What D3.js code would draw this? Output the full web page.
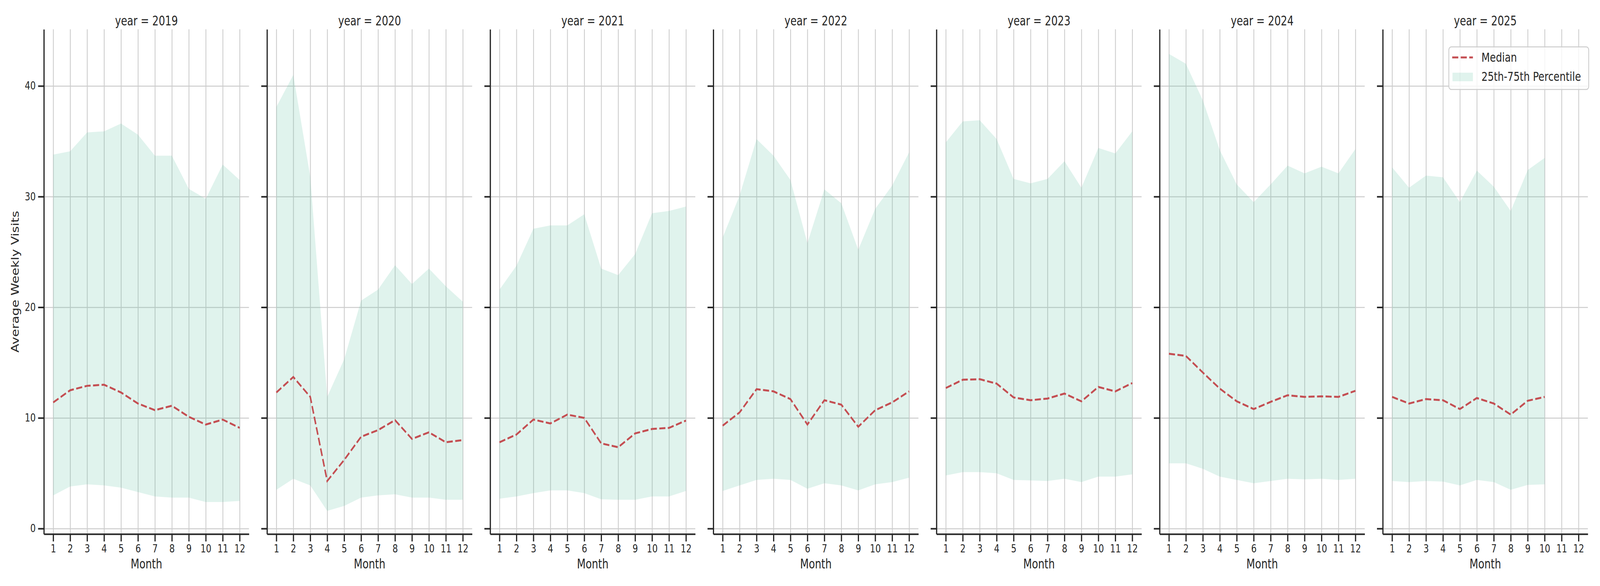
<!DOCTYPE html>
<html>
<head>
  <meta charset="utf-8">
  <title>Average Weekly Visits by Month and Year</title>
  <script src="https://d3js.org/d3.v7.min.js"></script>
  <style>
    html,
    body {
      margin: 0;
      padding: 0;
      overflow: hidden;
      background: #fff;
    }

    text {
      font-family: "DejaVu Sans", sans-serif;
      fill: #262626;
    }

    .grid line {
      stroke: #cccccc;
      stroke-width: 2.7;
    }

    .axis path,
    .axis line {
      stroke: #262626;
      stroke-width: 4;
    }
  </style>
</head>
<body>
  <div id="chart"></div>

  <script>
    // Data
    var years = [2019, 2020, 2021, 2022, 2023, 2024, 2025];
    var months = [1, 2, 3, 4, 5, 6, 7, 8, 9, 10, 11, 12];
    var yTicks = [0, 10, 20, 30, 40];

    // one row per year, one value per month (2025 stops at October)
    var median = [
      [11.4, 12.5, 12.9, 13.0, 12.3, 11.3, 10.7, 11.1, 10.1, 9.4, 9.85, 9.1],
      [12.3, 13.7, 11.9, 4.3, 6.2, 8.3, 8.9, 9.8, 8.1, 8.7, 7.8, 8.0],
      [7.8, 8.5, 9.85, 9.5, 10.3, 10.0, 7.7, 7.35, 8.6, 9.0, 9.1, 9.76],
      [9.3, 10.5, 12.6, 12.4, 11.7, 9.4, 11.6, 11.2, 9.2, 10.7, 11.4, 12.4],
      [12.7, 13.45, 13.5, 13.1, 11.85, 11.6, 11.75, 12.2, 11.5, 12.8, 12.4, 13.15],
      [15.8, 15.6, 14.1, 12.65, 11.5, 10.8, 11.45, 12.05, 11.9, 11.95, 11.9, 12.45],
      [11.9, 11.3, 11.7, 11.6, 10.8, 11.8, 11.3, 10.3, 11.55, 11.9]
    ];
    var p25 = [
      [3.0, 3.8, 4.0, 3.9, 3.7, 3.3, 2.9, 2.8, 2.8, 2.4, 2.4, 2.5],
      [3.5, 4.5, 3.9, 1.6, 2.05, 2.8, 3.0, 3.1, 2.8, 2.8, 2.6, 2.6],
      [2.7, 2.9, 3.2, 3.45, 3.45, 3.2, 2.65, 2.6, 2.6, 2.9, 2.9, 3.4],
      [3.4, 3.9, 4.4, 4.5, 4.4, 3.6, 4.1, 3.9, 3.45, 4.0, 4.2, 4.6],
      [4.8, 5.1, 5.1, 5.0, 4.4, 4.35, 4.3, 4.5, 4.2, 4.7, 4.7, 4.9],
      [5.9, 5.9, 5.4, 4.7, 4.4, 4.1, 4.3, 4.5, 4.45, 4.5, 4.4, 4.5],
      [4.3, 4.2, 4.3, 4.25, 3.9, 4.4, 4.2, 3.5, 3.95, 4.0]
    ];
    var p75 = [
      [33.8, 34.1, 35.8, 35.9, 36.6, 35.6, 33.7, 33.7, 30.7, 29.8, 32.9, 31.5],
      [38.1, 41.0, 31.8, 11.9, 15.3, 20.6, 21.6, 23.8, 22.1, 23.5, 21.9, 20.5],
      [21.6, 23.75, 27.1, 27.4, 27.4, 28.4, 23.5, 22.9, 24.8, 28.5, 28.7, 29.1],
      [26.3, 30.1, 35.2, 33.7, 31.5, 25.8, 30.65, 29.4, 25.2, 28.9, 31.0, 34.0],
      [34.9, 36.8, 36.9, 35.2, 31.6, 31.2, 31.6, 33.2, 30.8, 34.4, 33.9, 35.9],
      [42.9, 42.0, 38.7, 34.2, 31.1, 29.5, 31.1, 32.8, 32.1, 32.7, 32.1, 34.3],
      [32.65, 30.8, 31.9, 31.75, 29.5, 32.35, 30.9, 28.7, 32.4, 33.5]
    ];

    // Layout (drawn in a 5250x1500 coordinate box, fitted to the window)
    var width = 5250;
    var height = 1500;
    var firstLeft = 144;
    var panelStep = 732.2;
    var panelWidth = 673;
    var plotTop = 75;
    var plotBottom = 1367;

    var lineColor = "#c44e52";
    var bandColor = "#66c2a5";

    var svg = d3.select("#chart")
      .append("svg")
      .attr("viewBox", "0 0 " + width + " " + height)
      .attr("preserveAspectRatio", "none")
      .style("display", "block")
      .style("width", "100vw")
      .style("height", "100vh");

    svg.append("rect")
      .attr("width", width)
      .attr("height", height)
      .attr("fill", "#fff");

    var y = d3.scaleLinear()
      .domain([-0.494, 45.12])
      .range([plotBottom, plotTop]);

    years.forEach(function(year, i) {
      var left = firstLeft + i * panelStep;
      var x = d3.scaleLinear()
        .domain([0.45, 12.55])
        .range([left, left + panelWidth]);

      var g = svg.append("g");

      // grid lines
      g.append("g")
        .attr("class", "grid")
        .attr("transform", "translate(0," + plotBottom + ")")
        .call(d3.axisBottom(x).tickValues(months).tickSize(-(plotBottom - plotTop)).tickFormat(""))
        .call(function(s) { s.select(".domain").remove(); });

      g.append("g")
        .attr("class", "grid")
        .attr("transform", "translate(" + left + ",0)")
        .call(d3.axisLeft(y).tickValues(yTicks).tickSize(-panelWidth).tickFormat(""))
        .call(function(s) { s.select(".domain").remove(); });

      var rows = median[i].map(function(m, k) {
        return { month: months[k], median: m, lo: p25[i][k], hi: p75[i][k] };
      });

      // 25th-75th band
      var area = d3.area()
        .x(function(d) { return x(d.month); })
        .y0(function(d) { return y(d.lo); })
        .y1(function(d) { return y(d.hi); });

      g.append("path")
        .datum(rows)
        .attr("d", area)
        .attr("fill", bandColor)
        .attr("fill-opacity", 0.2);

      // median line
      var line = d3.line()
        .x(function(d) { return x(d.month); })
        .y(function(d) { return y(d.median); });

      g.append("path")
        .datum(rows)
        .attr("d", line)
        .attr("fill", "none")
        .attr("stroke", lineColor)
        .attr("stroke-width", 5)
        .attr("stroke-dasharray", "20,8");

      // axes
      var xAxis = g.append("g")
        .attr("class", "axis")
        .attr("transform", "translate(0," + plotBottom + ")")
        .call(d3.axisBottom(x).tickValues(months).tickSize(19).tickSizeOuter(0).tickPadding(8));
      xAxis.selectAll("text")
        .style("font-size", "28px");

      var yAxis = g.append("g")
        .attr("class", "axis")
        .attr("transform", "translate(" + left + ",0)")
        .call(d3.axisLeft(y).tickValues(yTicks).tickSize(19).tickSizeOuter(0).tickPadding(8));
      yAxis.selectAll("text")
        .style("font-size", "28px");
      if (i > 0) {
        yAxis.selectAll("text").remove();
      }

      // titles
      g.append("text")
        .attr("x", left + panelWidth / 2)
        .attr("y", 65)
        .attr("text-anchor", "middle")
        .style("font-size", "33px")
        .text("year = " + year);

      g.append("text")
        .attr("x", left + panelWidth / 2)
        .attr("y", 1455)
        .attr("text-anchor", "middle")
        .style("font-size", "33px")
        .text("Month");
    });

    svg.append("text")
      .attr("transform", "translate(62," + (plotTop + plotBottom) / 2 + ") rotate(-90)")
      .attr("text-anchor", "middle")
      .style("font-size", "33px")
      .text("Average Weekly Visits");

    // legend in the last panel
    var legend = svg.append("g");
    legend.append("rect")
      .attr("x", 4754)
      .attr("y", 120)
      .attr("width", 459)
      .attr("height", 109)
      .attr("rx", 8)
      .attr("fill", "#fff")
      .attr("fill-opacity", 0.8)
      .attr("stroke", "#cccccc")
      .attr("stroke-width", 2.7);

    legend.append("line")
      .attr("x1", 4765)
      .attr("x2", 4833)
      .attr("y1", 147)
      .attr("y2", 147)
      .attr("stroke", lineColor)
      .attr("stroke-width", 5)
      .attr("stroke-dasharray", "20,8");

    legend.append("rect")
      .attr("x", 4766)
      .attr("y", 186)
      .attr("width", 67)
      .attr("height", 22)
      .attr("fill", bandColor)
      .attr("fill-opacity", 0.2);

    legend.append("text")
      .attr("x", 4861)
      .attr("y", 158)
      .style("font-size", "32px")
      .text("Median");

    legend.append("text")
      .attr("x", 4861)
      .attr("y", 207)
      .style("font-size", "32px")
      .text("25th-75th Percentile");
  </script>
</body>
</html>
